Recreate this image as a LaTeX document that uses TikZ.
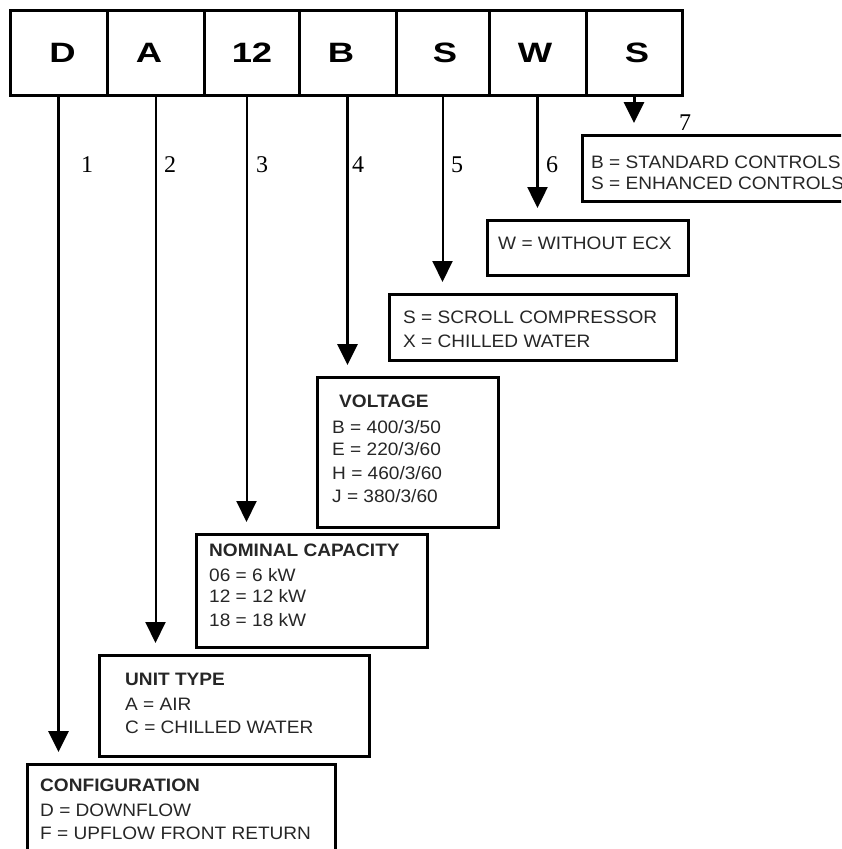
\documentclass[tikz,border=0pt]{standalone}
\usepackage{fontspec}
\usetikzlibrary{arrows.meta}
\newfontfamily\boxfont{Liberation Sans}[FakeStretch=1.06]
\newfontfamily\barfont{Liberation Sans}[FakeStretch=1.3]
\newfontfamily\numfont{Liberation Serif}
\tikzset{
  cell/.style={draw, line width=3pt, inner sep=0pt, outer sep=0pt, minimum height=85pt},
  barletter/.style={inner sep=0pt, font=\barfont\bfseries\fontsize{28}{30}\selectfont},
  infobox/.style={draw, line width=3pt, inner sep=0pt, outer sep=0pt, anchor=north west},
  txt/.style={inner sep=0pt, anchor=base west, font=\boxfont\fontsize{18}{22}\selectfont, text=black!85},
  hdr/.style={txt, font=\boxfont\bfseries\fontsize{18}{22}\selectfont},
  num/.style={inner sep=0pt, font=\numfont\fontsize{24}{26}\selectfont},
  arr/.style={line width=2.5pt, -{Triangle[width=20pt,length=21pt]}},
}
\begin{document}
\begin{tikzpicture}[x=1pt,y=-1pt]
\useasboundingbox (0,0) rectangle (841,849);
\clip (0,0) rectangle (841,849);
% top bar
\node[cell, minimum width=97pt] (c1) at (58.5,52.5) {};
\node[cell, minimum width=97pt] (c2) at (155.5,52.5) {};
\node[cell, minimum width=95pt] (c3) at (251.5,52.5) {};
\node[cell, minimum width=97pt] (c4) at (347.5,52.5) {};
\node[cell, minimum width=93pt] (c5) at (442.5,52.5) {};
\node[cell, minimum width=97pt] (c6) at (537.5,52.5) {};
\node[cell, minimum width=96pt] (c7) at (634,52.5) {};
\node[barletter] (l1) at (62.5,53) {D};
\node[barletter] (l2) at (149,53) {A};
\node[barletter] (l3) at (252,53) {12};
\node[barletter] (l4) at (341,53) {B};
\node[barletter] (l5) at (445,53) {S};
\node[barletter] (l6) at (535,53) {W};
\node[barletter] (l7) at (637,53) {S};
% boxes
\node[infobox, minimum width=308pt, minimum height=110pt] (b1) at (27,764) {};
\node[infobox, minimum width=270pt, minimum height=101pt] (b2) at (99,655) {};
\node[infobox, minimum width=231pt, minimum height=113pt] (b3) at (196,534) {};
\node[infobox, minimum width=181pt, minimum height=150pt] (b4) at (317,377) {};
\node[infobox, minimum width=287pt, minimum height=66pt] (b5) at (389,294) {};
\node[infobox, minimum width=201pt, minimum height=55pt] (b6) at (487,220) {};
\node[infobox, minimum width=300pt, minimum height=66pt] (b7) at (582,135) {};
% arrows
\draw[arr, line width=3pt] (c1.south) -- ([yshift=12pt]b1.north -| c1.south);
\draw[arr, line width=2pt] (c2.south) -- ([yshift=12pt]b2.north -| c2.south);
\draw[arr, line width=2pt] ([xshift=-5pt]c3.south) -- ([yshift=12pt,xshift=-5pt]b3.north -| c3.south);
\draw[arr, line width=3pt] (c4.south) -- ([yshift=12pt]b4.north -| c4.south);
\draw[arr, line width=2pt] (c5.south) -- ([yshift=12pt]b5.north -| c5.south);
\draw[arr, line width=2.5pt] (c6.south) -- ([yshift=12pt]b6.north -| c6.south);
\draw[arr, line width=3pt] (c7.south) -- ([yshift=12pt]b7.north -| c7.south);
% numbers
\node[num] (n1) at (87,165) {1};
\node[num] (n2) at (170,165) {2};
\node[num] (n3) at (262,165) {3};
\node[num] (n4) at (358,165) {4};
\node[num] (n5) at (457,165) {5};
\node[num] (n6) at (552,165) {6};
\node[num] (n7) at (685,123) {7};
% box 1
\node[hdr] (t11) at (40,791.5) {CONFIGURATION};
\node[txt] (t12) at (40,816.5) {D = DOWNFLOW};
\node[txt] (t13) at (40,839.5) {F = UPFLOW FRONT RETURN};
% box 2
\node[hdr] (t21) at (125,685.5) {UNIT TYPE};
\node[txt] (t22) at (125,710.5) {A = AIR};
\node[txt] (t23) at (125,733.5) {C = CHILLED WATER};
% box 3
\node[hdr] (t31) at (209,556.5) {NOMINAL CAPACITY};
\node[txt] (t32) at (209,581.5) {06 = 6 kW};
\node[txt] (t33) at (209,602.5) {12 = 12 kW};
\node[txt] (t34) at (209,626.5) {18 = 18 kW};
% box 4
\node[hdr] (t41) at (339,407.5) {VOLTAGE};
\node[txt] (t42) at (332,433.5) {B = 400/3/50};
\node[txt] (t43) at (332,455.5) {E = 220/3/60};
\node[txt] (t44) at (332,479.5) {H = 460/3/60};
\node[txt] (t45) at (332,502.5) {J = 380/3/60};
% box 5
\node[txt] (t51) at (403,323.5) {S = SCROLL COMPRESSOR};
\node[txt] (t52) at (403,347.5) {X = CHILLED WATER};
% box 6
\node[txt] (t61) at (498,249.5) {W = WITHOUT ECX};
% box 7
\node[txt] (t71) at (591,168.5) {B = STANDARD CONTROLS};
\node[txt] (t72) at (591,189) {S = ENHANCED CONTROLS};
\end{tikzpicture}
\end{document}
